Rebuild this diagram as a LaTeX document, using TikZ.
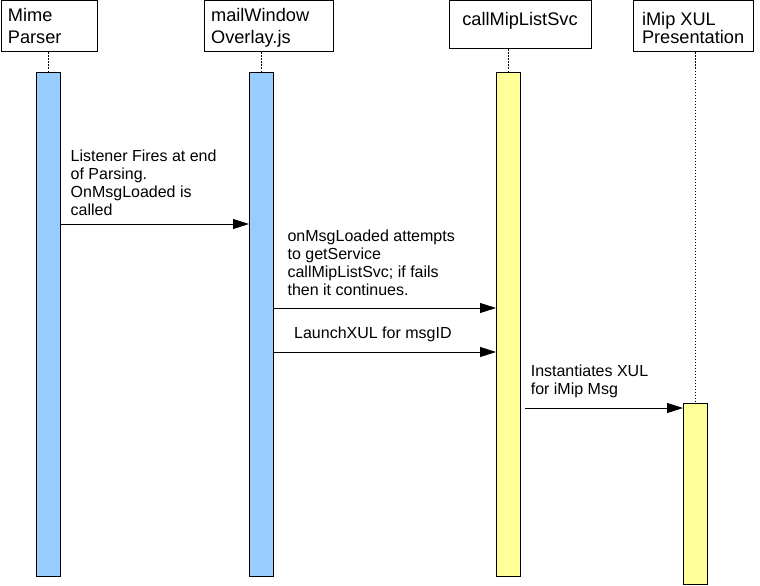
\documentclass[tikz,border=0pt]{standalone}
\usepackage{fontspec}
\setmainfont{Liberation Sans}
\usetikzlibrary{arrows.meta}
\definecolor{barblue}{HTML}{99CCFF}
\definecolor{baryellow}{HTML}{FFFF99}
\tikzset{
  hdr/.style={draw, line width=1pt, inner sep=0pt, anchor=north west},
  hdrtext/.style={inner sep=0pt, anchor=north west, align=left,
    font=\fontsize{18.2}{#1}\selectfont},
  actbar/.style={draw, line width=1pt, fill=#1, inner sep=0pt, anchor=north west, minimum width=24pt},
  lifeline/.style={line width=0.8pt, dash pattern=on 1.5pt off 1.5pt},
  msg/.style={line width=0.8pt, -{Triangle[length=16pt,width=10pt]}},
  msgtext/.style={inner sep=0pt, anchor=north west, align=left,
    font=\fontsize{16}{18.2}\selectfont},
}
\begin{document}
\begin{tikzpicture}[x=1pt,y=-1pt]
\useasboundingbox (0,0) rectangle (760,586);
% header boxes
\node[hdr, minimum width=96pt, minimum height=51pt] (hmime) at (0.5,0.5) {};
\node[hdr, minimum width=129pt, minimum height=51pt] (hmail) at (203.5,0.5) {};
\node[hdr, minimum width=142pt, minimum height=48pt] (hcall) at (448.5,0.5) {};
\node[hdr, minimum width=120pt, minimum height=51pt] (himip) at (633,0.5) {};
% header texts
\node[hdrtext=22.5] (tmime) at (7.7,8) {Mime\\Parser};
\node[hdrtext=22.5] (tmail) at (210.9,8) {mailWindow\\Overlay.js};
\node[hdrtext=18, anchor=north] (tcall) at (hcall.north |- 0,12) {callMipListSvc};
\node[hdrtext=18.3] (timip) at (641.8,12) {iMip XUL\\Presentation};
% activation bars
\node[actbar=barblue, minimum height=504pt] (bmime) at (36,72) {};
\node[actbar=barblue, minimum height=504pt] (bmail) at (249,72) {};
\node[actbar=baryellow, minimum height=504pt] (bcall) at (496,72) {};
\node[actbar=baryellow, minimum height=181pt] (bimip) at (683,403) {};
% lifelines
\draw[lifeline] (hmime.south -| bmime.north) -- (bmime.north);
\draw[lifeline] (hmail.south -| bmail.north) -- (bmail.north);
\draw[lifeline] (hcall.south -| bcall.north) -- (bcall.north);
\draw[lifeline] (himip.south -| bimip.north) -- (bimip.north);
% messages
\draw[msg] (bmime.east |- 0,224) -- (bmail.west |- 0,224);
\draw[msg] (bmail.east |- 0,308) -- (bcall.west |- 0,308);
\draw[msg] (bmail.east |- 0,352) -- (bcall.west |- 0,352);
\coordinate (s4) at ([xshift=4pt]bcall.east |- 0,408);
\draw[msg] (s4) -- (bimip.west |- 0,408);
% message labels
\node[msgtext] (l1) at (70.5,149.5) {Listener Fires at end\\of Parsing.\\OnMsgLoaded is\\called};
\node[msgtext] (l2) at (287.4,229.5) {onMsgLoaded attempts\\to getService\\callMipListSvc; if fails\\then it continues.};
\node[msgtext] (l3) at (294,326.5) {LaunchXUL for msgID};
\node[msgtext] (l4) at (530.6,364.5) {Instantiates XUL\\for iMip Msg};
\end{tikzpicture}
\end{document}
